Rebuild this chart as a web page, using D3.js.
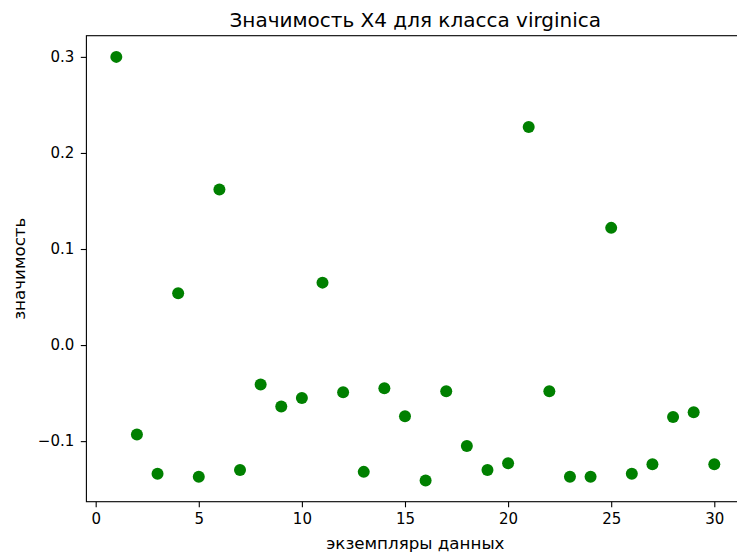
<!DOCTYPE html>
<html>
<head>
<meta charset="utf-8">
<script src="https://cdn.jsdelivr.net/npm/d3@7"></script>
<style>
	body { margin: 0; background: #fff; }
	text { font-family: "DejaVu Sans", sans-serif; fill: #000; }
</style>
</head>
<body>
<div id="chart"></div>
<script>
// номера экземпляров и значимость X4
const samples = d3.range(1, 31);
const importance = [
	0.300, -0.093, -0.134, 0.054, -0.137, 0.162, -0.130, -0.041, -0.064, -0.055,
	0.065, -0.049, -0.132, -0.045, -0.074, -0.141, -0.048, -0.105, -0.130, -0.123,
	0.227, -0.048, -0.137, -0.137, 0.122, -0.134, -0.124, -0.075, -0.070, -0.124
];
const xTicks = [0, 5, 10, 15, 20, 25, 30];
const yTicks = [-0.1, 0.0, 0.1, 0.2, 0.3];

const titleText = 'Значимость X4 для класса virginica';
const xLabelText = 'экземпляры данных';
const yLabelText = 'значимость';

const widthSvg = 737;
const heightSvg = 555;
let margin = {top: 35.7, left: 86.4, bottom: 53.3};
let plotRight = 744.2;

// поля как в matplotlib: 5% от размаха
const withMargins = (ext) => {
	let pad = (ext[1] - ext[0]) * 0.05;
	return [ext[0] - pad, ext[1] + pad];
}

let xScale = d3.scaleLinear()
	.domain(withMargins(d3.extent(samples)))
	.range([margin.left, plotRight]);

let yScale = d3.scaleLinear()
	.domain(withMargins(d3.extent(importance)))
	.range([heightSvg - margin.bottom, margin.top]);

const svg = d3.select('#chart').append('svg')
	.attr('width', widthSvg)
	.attr('height', heightSvg);

let xAxis = d3.axisBottom(xScale)
	.tickValues(xTicks)
	.tickFormat(d3.format('d'))
	.tickSizeInner(5.6)
	.tickSizeOuter(0)
	.tickPadding(6);

let yAxis = d3.axisLeft(yScale)
	.tickValues(yTicks)
	.tickFormat(d3.format('.1f'))
	.tickSizeInner(5.6)
	.tickSizeOuter(0)
	.tickPadding(6.5);

const gx = svg.append('g')
	.attr('transform', `translate(0,${heightSvg - margin.bottom})`)
	.call(xAxis);
const gy = svg.append('g')
	.attr('transform', `translate(${margin.left},0)`)
	.call(yAxis);

[gx, gy].forEach(g => {
	g.select('.domain').remove();
	g.selectAll('line').attr('stroke', '#000').attr('stroke-width', 1.1);
	g.selectAll('text').attr('font-size', '15px').attr('fill', '#000');
});

// рамка
svg.append('rect')
	.attr('x', margin.left)
	.attr('y', margin.top)
	.attr('width', plotRight - margin.left)
	.attr('height', heightSvg - margin.bottom - margin.top)
	.attr('fill', 'none')
	.attr('stroke', '#000')
	.attr('stroke-width', 1.1);

svg.append('g').selectAll('circle')
	.data(importance)
	.enter().append('circle')
	.attr('cx', (v, i) => xScale(samples[i]))
	.attr('cy', v => yScale(v))
	.attr('r', 6)
	.attr('fill', 'green');

const centerX = (margin.left + plotRight) / 2;

svg.append('text')
	.attr('x', centerX)
	.attr('y', 27)
	.attr('text-anchor', 'middle')
	.attr('font-size', '20px')
	.text(titleText);

svg.append('text')
	.attr('x', centerX)
	.attr('y', 549)
	.attr('text-anchor', 'middle')
	.attr('font-size', '16.7px')
	.text(xLabelText);

svg.append('text')
	.attr('transform', `translate(25,${(margin.top + heightSvg - margin.bottom) / 2}) rotate(-90)`)
	.attr('text-anchor', 'middle')
	.attr('font-size', '16.7px')
	.text(yLabelText);
</script>
</body>
</html>
